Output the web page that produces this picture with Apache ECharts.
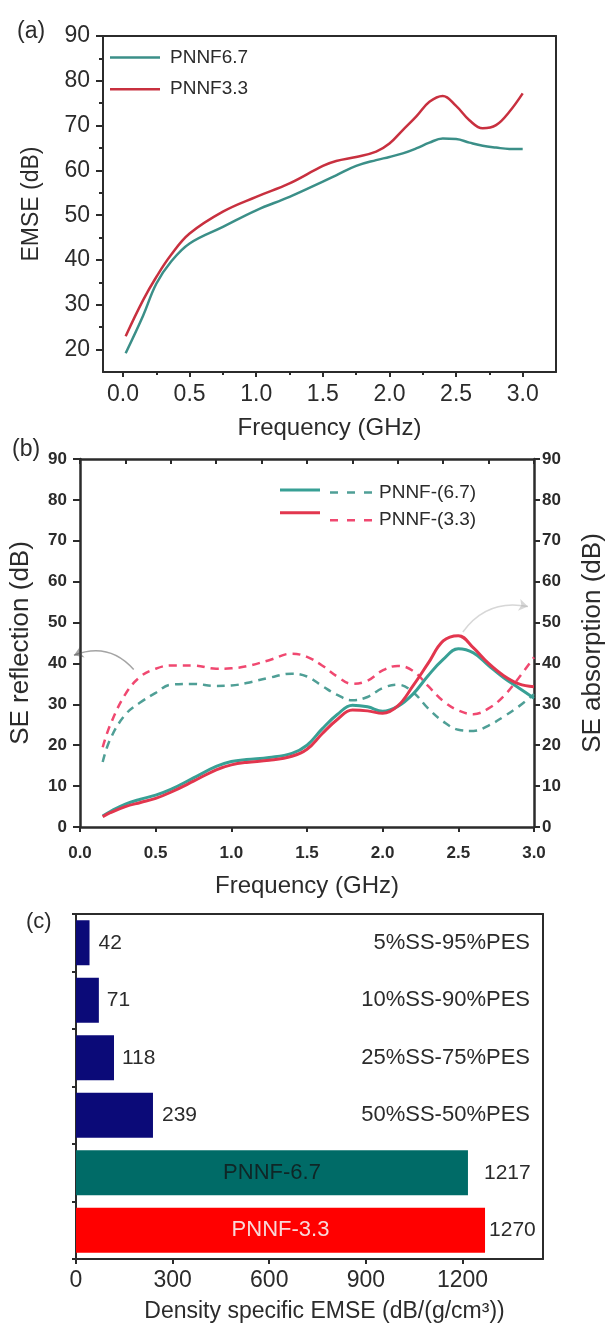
<!DOCTYPE html>
<html>
<head>
<meta charset="utf-8">
<script src="https://cdn.jsdelivr.net/npm/echarts@6/dist/echarts.min.js"></script>
<style>
  html, body { margin: 0; padding: 0; background: #fff; }
  #chart { width: 614px; height: 1325px; }
</style>
</head>
<body>
<div id="chart"></div>
<script>
// ---- (a) EMSE vs frequency ----
const freqA = [0.02, 0.15, 0.25, 0.36, 0.5, 0.75, 1.0, 1.25, 1.5, 1.6, 1.75, 1.9, 2.0, 2.1, 2.2, 2.3, 2.4, 2.5, 2.6, 2.7, 2.8, 2.9, 3.0];
const emse67 = [19.2, 27.5, 34.7, 39.6, 43.7, 47.4, 51.1, 54.1, 57.5, 58.9, 61.0, 62.3, 63.0, 63.8, 64.9, 66.2, 67.1, 67.0, 66.2, 65.5, 65.1, 64.8, 64.8];
const emse33 = [23.0, 31.0, 36.2, 41.1, 45.9, 50.8, 54.1, 57.1, 61.0, 62.1, 63.0, 64.2, 66.0, 69.0, 72.0, 75.3, 76.6, 74.4, 71.2, 69.4, 70.1, 73.1, 77.2];
const freqTicks = [0, 0.5, 1.0, 1.5, 2.0, 2.5, 3.0];
const freqMinorTicks = [0.25, 0.75, 1.25, 1.75, 2.25, 2.75];
const emseTicks = [20, 30, 40, 50, 60, 70, 80, 90];
const emseMinorTicks = [25, 35, 45, 55, 65, 75, 85];

// ---- (b) SE reflection (dashed) / SE absorption (solid) ----
const freqB = [0.15, 0.2, 0.3, 0.4, 0.5, 0.6, 0.75, 0.9, 1.0, 1.1, 1.25, 1.4, 1.5, 1.6, 1.7, 1.8, 1.9, 2.0, 2.1, 2.2, 2.3, 2.4, 2.5, 2.6, 2.7, 2.8, 2.9, 3.0];
const absorb67 = [2.7, 3.8, 5.6, 6.8, 7.8, 9.2, 12.0, 14.8, 16.0, 16.5, 17.0, 18.0, 20.0, 24.0, 27.5, 29.8, 29.4, 28.3, 29.5, 32.5, 37.0, 41.0, 43.6, 42.6, 39.5, 36.5, 34.0, 31.5];
const absorb33 = [2.5, 3.5, 5.0, 6.0, 7.0, 8.5, 11.2, 14.0, 15.2, 15.8, 16.3, 17.3, 19.0, 22.8, 26.3, 28.6, 28.4, 27.8, 29.6, 34.5, 40.0, 45.5, 46.8, 43.8, 40.0, 37.0, 35.0, 34.3];
const reflect67 = [15.9, 21.5, 27.5, 30.5, 32.8, 34.8, 35.0, 34.5, 34.6, 35.2, 36.5, 37.5, 36.8, 34.5, 32.3, 31.0, 31.8, 34.0, 34.8, 33.0, 29.0, 25.8, 23.8, 23.5, 24.8, 27.0, 29.5, 32.5];
const reflect33 = [19.5, 25.0, 32.5, 36.8, 38.7, 39.5, 39.5, 38.7, 38.8, 39.3, 40.8, 42.4, 41.6, 39.5, 36.8, 35.0, 35.8, 38.3, 39.4, 38.2, 34.5, 30.8, 28.5, 27.6, 29.0, 32.0, 36.5, 41.5];
// annotation arrows: [tail, head] in data units
const arrowReflection = [[0.355, 38.5], [-0.04, 42.0]];
const arrowAbsorption = [[2.53, 47.7], [2.96, 53.9]];

// ---- (c) density specific EMSE ----
const samples = ['5%SS-95%PES', '10%SS-90%PES', '25%SS-75%PES', '50%SS-50%PES', 'PNNF-6.7', 'PNNF-3.3'];
const specificEmse = [42, 71, 118, 239, 1217, 1270];
const specificTicks = [0, 300, 600, 900, 1200];

const FONT = '"Liberation Sans", Arial, sans-serif';
const INK = '#2b2b2b';
const barColors = ['#0b0a78', '#0b0a78', '#0b0a78', '#0b0a78', '#006b67', '#ff0000'];
const valueLabelGap = [9, 8, 8, 9, 16, 4];
const insideLabelColors = ['', '', '', '', '#0f2626', '#f8d8d8'];
const DASH_ICON = 'path://M0,0h8v2h-8zM17,0h8v2h-8zM34,0h8v2h-8z';

const zip = (xs, ys) => xs.map((x, i) => [x, ys[i]]);
const axLine = (w) => ({ show: true, onZero: false, lineStyle: { color: INK, width: w } });
const noLine = { show: false, onZero: false };
const noSplit = { show: false };
const tickStyle = { color: INK, width: 2 };
const txt = (size, bold) => ({ fontSize: size, color: INK, fontFamily: FONT, fontWeight: bold ? 'bold' : 'normal' });

const chart = echarts.init(document.getElementById('chart'), null, { renderer: 'canvas' });

const option = {
    animation: false,
    backgroundColor: '#fff',
    title: [
        { text: '(a)', left: 17, top: 20, padding: 0, textStyle: txt(23) },
        { text: '(b)', left: 12, top: 438, padding: 0, textStyle: txt(23) },
        { text: '(c)', left: 26, top: 911, padding: 0, textStyle: txt(22) }
    ],
    grid: [
        { left: 103, top: 36, width: 453, height: 336 },
        { left: 80, top: 459, width: 462, height: 368 },
        { left: 76, top: 914, width: 467, height: 345 }
    ],
    legend: [
        {
            data: ['PNNF6.7', 'PNNF3.3'], orient: 'vertical', left: 110, top: 48, padding: 0,
            icon: 'rect', itemWidth: 50, itemHeight: 2.5, itemGap: 12.7, symbolKeepAspect: false,
            itemStyle: { borderWidth: 0 },
            textStyle: Object.assign(txt(19), { lineHeight: 14, padding: [0, 0, 0, 5] })
        },
        {
            data: ['PNNF-(6.7) abs', 'PNNF-(3.3) abs'], orient: 'vertical', left: 280, top: 483, padding: 0,
            icon: 'rect', itemWidth: 40, itemHeight: 3, itemGap: 8.7, symbolKeepAspect: false,
            itemStyle: { borderWidth: 0 }, formatter: () => ' ',
            textStyle: { fontSize: 10, lineHeight: 14 }
        },
        {
            data: ['PNNF-(6.7)', 'PNNF-(3.3)'], orient: 'vertical', left: 330, top: 483, padding: 0,
            icon: DASH_ICON, itemWidth: 42, itemHeight: 2.5, itemGap: 8.7, symbolKeepAspect: false,
            itemStyle: { borderWidth: 0 },
            textStyle: Object.assign(txt(19), { lineHeight: 14, padding: [0, 0, 0, 2] })
        }
    ],
    xAxis: [
        // (a)
        {
            gridIndex: 0, type: 'value', position: 'bottom', min: -0.15, max: 3.25,
            axisLine: axLine(2), splitLine: noSplit,
            axisTick: { show: true, customValues: freqTicks, length: 5, lineStyle: tickStyle },
            axisLabel: Object.assign(txt(23), { customValues: freqTicks, formatter: v => v.toFixed(1), margin: 11 }),
            name: 'Frequency (GHz)', nameLocation: 'middle', nameGap: 44, nameTextStyle: txt(24)
        },
        {
            gridIndex: 0, type: 'value', position: 'bottom', min: -0.15, max: 3.25,
            axisLine: noLine, splitLine: noSplit, axisLabel: { show: false },
            axisTick: { show: true, customValues: freqMinorTicks, length: 3, lineStyle: tickStyle }
        },
        {
            gridIndex: 0, type: 'value', position: 'top', min: -0.15, max: 3.25,
            axisLine: axLine(2), splitLine: noSplit, axisTick: { show: false }, axisLabel: { show: false }
        },
        // (b)
        {
            gridIndex: 1, type: 'value', position: 'bottom', min: 0, max: 3, interval: 0.5,
            axisLine: axLine(2.5), splitLine: noSplit,
            axisTick: { show: true, length: 5, lineStyle: tickStyle },
            axisLabel: Object.assign(txt(17, true), { formatter: v => v.toFixed(1), margin: 18 }),
            name: 'Frequency (GHz)', nameLocation: 'middle', nameGap: 47, nameTextStyle: txt(24)
        },
        {
            gridIndex: 1, type: 'value', position: 'top', min: 0, max: 3, interval: 0.3,
            axisLine: axLine(2.5), splitLine: noSplit, axisLabel: { show: false },
            axisTick: { show: true, inside: true, length: 5, lineStyle: tickStyle }
        },
        // (c)
        {
            gridIndex: 2, type: 'value', position: 'bottom', min: 0, max: 1450,
            axisLine: axLine(2), splitLine: noSplit,
            axisTick: { show: true, customValues: specificTicks, length: 5, lineStyle: tickStyle },
            axisLabel: Object.assign(txt(23), { customValues: specificTicks, formatter: v => String(v), margin: 10 }),
            name: 'Density specific EMSE (dB/(g/cm\u00b3))', nameLocation: 'middle', nameGap: 41,
            nameTextStyle: Object.assign(txt(23), { padding: [0, 0, 0, 30] })
        },
        {
            gridIndex: 2, type: 'value', position: 'top', min: 0, max: 1450,
            axisLine: axLine(2), splitLine: noSplit, axisTick: { show: false }, axisLabel: { show: false }
        }
    ],
    yAxis: [
        // (a)
        {
            gridIndex: 0, type: 'value', position: 'left', min: 15, max: 90,
            axisLine: axLine(2), splitLine: noSplit,
            axisTick: { show: true, customValues: emseTicks, length: 7, lineStyle: tickStyle },
            axisLabel: Object.assign(txt(23), { customValues: emseTicks, margin: 13 }),
            name: 'EMSE (dB)', nameLocation: 'middle', nameGap: 60, nameTextStyle: txt(23)
        },
        {
            gridIndex: 0, type: 'value', position: 'left', min: 15, max: 90,
            axisLine: noLine, splitLine: noSplit, axisLabel: { show: false },
            axisTick: { show: true, customValues: emseMinorTicks, length: 4, lineStyle: tickStyle }
        },
        {
            gridIndex: 0, type: 'value', position: 'right', min: 15, max: 90,
            axisLine: axLine(2), splitLine: noSplit, axisTick: { show: false }, axisLabel: { show: false }
        },
        // (b)
        {
            gridIndex: 1, type: 'value', position: 'left', min: 0, max: 90, interval: 10,
            axisLine: axLine(2.5), splitLine: noSplit,
            axisTick: { show: true, length: 7, lineStyle: tickStyle },
            axisLabel: Object.assign(txt(17, true), { margin: 13 }),
            name: 'SE reflection (dB)', nameLocation: 'middle', nameGap: 46, nameTextStyle: txt(26)
        },
        {
            gridIndex: 1, type: 'value', position: 'right', min: 0, max: 90, interval: 10,
            axisLine: axLine(2.5), splitLine: noSplit,
            axisTick: { show: true, length: 6, lineStyle: tickStyle },
            axisLabel: Object.assign(txt(17, true), { margin: 8 }),
            name: 'SE absorption (dB)', nameLocation: 'middle', nameGap: 46, nameTextStyle: txt(26)
        },
        // (c)
        {
            gridIndex: 2, type: 'category', position: 'left', data: samples, inverse: true,
            axisLine: axLine(2), splitLine: noSplit,
            axisTick: { show: true, length: 4, lineStyle: tickStyle },
            axisLabel: { show: false }
        },
        {
            gridIndex: 2, type: 'category', position: 'right', data: samples, inverse: true,
            axisLine: axLine(2), splitLine: noSplit, axisTick: { show: false },
            axisLabel: Object.assign(txt(22), { inside: true, margin: 13, formatter: (v, i) => i < 4 ? v : '' })
        }
    ],
    series: [
        // (a)
        {
            name: 'PNNF6.7', type: 'line', xAxisIndex: 0, yAxisIndex: 0, smooth: 0.4, symbol: 'none',
            data: zip(freqA, emse67), color: '#3b8f88', lineStyle: { width: 2.5 }
        },
        {
            name: 'PNNF3.3', type: 'line', xAxisIndex: 0, yAxisIndex: 0, smooth: 0.4, symbol: 'none',
            data: zip(freqA, emse33), color: '#c8303f', lineStyle: { width: 2.5 }
        },
        // (b)
        {
            name: 'PNNF-(6.7)', type: 'line', xAxisIndex: 3, yAxisIndex: 3, smooth: 0.4, symbol: 'none',
            data: zip(freqB, reflect67), color: '#4f9f96', lineStyle: { width: 2.5, type: [8, 6] }
        },
        {
            name: 'PNNF-(3.3)', type: 'line', xAxisIndex: 3, yAxisIndex: 3, smooth: 0.4, symbol: 'none',
            data: zip(freqB, reflect33), color: '#f04870', lineStyle: { width: 2.5, type: [8, 6] }
        },
        {
            name: 'PNNF-(6.7) abs', type: 'line', xAxisIndex: 3, yAxisIndex: 4, smooth: 0.4, symbol: 'none',
            data: zip(freqB, absorb67), color: '#38a095', lineStyle: { width: 3 }
        },
        {
            name: 'PNNF-(3.3) abs', type: 'line', xAxisIndex: 3, yAxisIndex: 4, smooth: 0.4, symbol: 'none',
            data: zip(freqB, absorb33), color: '#e2364e', lineStyle: { width: 3 }
        },
        {
            type: 'lines', coordinateSystem: 'cartesian2d', xAxisIndex: 3, yAxisIndex: 3,
            clip: false, silent: true, symbol: ['none', 'arrow'], symbolSize: 9,
            lineStyle: { width: 1.5 },
            data: [
                { coords: arrowReflection, lineStyle: { color: '#4a4a4a', curveness: -0.35 } },
                { coords: arrowAbsorption, lineStyle: { color: '#b0b0b0', curveness: 0.32 } }
            ]
        },
        // (c)
        {
            type: 'bar', xAxisIndex: 5, yAxisIndex: 5, barWidth: 45, barGap: '-100%',
            data: specificEmse.map((v, i) => ({
                value: v, itemStyle: { color: barColors[i] }, label: { distance: valueLabelGap[i] }
            })),
            label: Object.assign(txt(21), { show: true, position: 'right' })
        },
        {
            type: 'bar', xAxisIndex: 5, yAxisIndex: 5, barWidth: 45, barGap: '-100%', silent: true,
            itemStyle: { color: 'rgba(0,0,0,0)' },
            data: specificEmse.map((v, i) => ({
                value: v, label: { color: insideLabelColors[i] }
            })),
            label: Object.assign(txt(22), {
                show: true, position: 'inside',
                formatter: p => p.dataIndex >= 4 ? samples[p.dataIndex] : ''
            })
        }
    ]
};

chart.setOption(option);
</script>
</body>
</html>
